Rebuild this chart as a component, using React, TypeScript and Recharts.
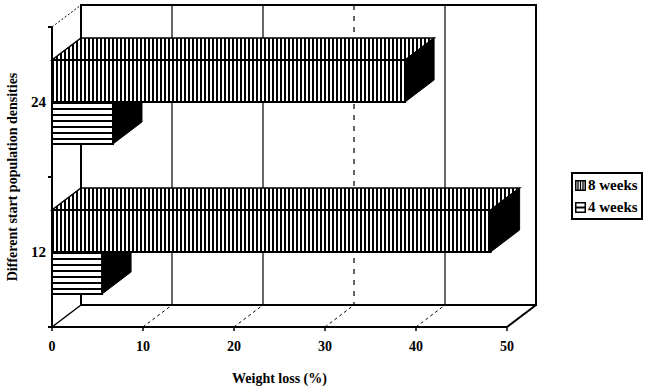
import React from 'react';
import { BarChart, Bar, XAxis, YAxis, Legend, ReferenceLine, ReferenceArea } from 'recharts';

// start densities (top to bottom) and weight loss (%) per period
const densities = ['24', '12'];
const weeks8 = [38.8, 48.2];
const weeks4 = [6.7, 5.5];
const xTicks = [0, 10, 20, 30, 40, 50];
const gridValues = [10, 20, 30, 40];
const seriesNames = ['8 weeks', '4 weeks'];

const data = densities.map((d, i) => ({ density: d, w8: weeks8[i], w4: weeks4[i] }));

// pseudo 3D depth of the Excel-style chart
const DX = 29;
const DY = -22;
const FONT = '"Liberation Serif", "Times New Roman", serif';

const shape8 = (p: any) => {
  const { x, y, width: w, height: h } = p;
  return (
    <g>
      <polygon
        points={`${x},${y} ${x + w},${y} ${x + w + DX},${y + DY} ${x + DX},${y + DY}`}
        fill="url(#vstripe)"
        stroke="#000"
        strokeWidth={1.5}
      />
      <polygon
        points={`${x + w},${y} ${x + w + DX},${y + DY} ${x + w + DX},${y + h + DY} ${x + w},${y + h}`}
        fill="#000"
        stroke="#000"
      />
      <rect x={x} y={y} width={w} height={h} fill="url(#vstripe)" stroke="#000" strokeWidth={2} />
    </g>
  );
};

// the lower bar: its top face sits under the 8 weeks bar, so only the clipped side shows
const shape4 = (p: any) => {
  const { x, y, width: w, height: h } = p;
  return (
    <g>
      <polygon
        points={`${x + w},${y} ${x + w + DX},${y} ${x + w + DX},${y + h + DY} ${x + w},${y + h}`}
        fill="#000"
        stroke="#000"
      />
      <rect x={x} y={y} width={w} height={h} fill="url(#hstripe)" stroke="#000" strokeWidth={2} />
    </g>
  );
};

// back wall, side wall and floor edges
const frameShape = (p: any) => {
  const { x, y, width: w, height: h } = p;
  const b = y + h;
  return (
    <g stroke="#000" fill="none">
      <rect x={x + DX} y={y + DY} width={w} height={h} strokeWidth={2} />
      <line x1={x} y1={y} x2={x + DX} y2={y + DY} strokeWidth={1} strokeDasharray="2 2" />
      <line x1={x} y1={b} x2={x + DX} y2={b + DY} strokeWidth={1.5} />
      <line x1={x + w} y1={b} x2={x + w + DX} y2={b + DY} strokeWidth={2} />
    </g>
  );
};

const gridShape = (dashed: boolean) => (p: any) => {
  const { x1, y1, y2 } = p;
  const top = Math.min(y1, y2);
  const bot = Math.max(y1, y2);
  return (
    <g stroke="#000" fill="none">
      <line
        x1={x1 + DX}
        y1={top + DY}
        x2={x1 + DX}
        y2={bot + DY}
        strokeWidth={1.2}
        strokeDasharray={dashed ? '5 6' : undefined}
      />
      <line x1={x1} y1={bot} x2={x1 + DX} y2={bot + DY} strokeWidth={1} strokeDasharray="3 3" />
    </g>
  );
};

const YTick = (p: any) => {
  const { x, y, payload } = p;
  const off = payload.offset ?? 0;
  return (
    <g>
      <text
        x={x - 6}
        y={y}
        dy="0.35em"
        textAnchor="end"
        fontSize={15}
        fontFamily={FONT}
        fontWeight="bold"
        fill="#000"
      >
        {payload.value}
      </text>
      <line x1={x - 4} y1={y - off} x2={x} y2={y - off} stroke="#000" strokeWidth={2} />
      <line x1={x - 4} y1={y + off} x2={x} y2={y + off} stroke="#000" strokeWidth={2} />
    </g>
  );
};

// legend drawn as its own little svg, box and all
const LegendBox = () => (
  <svg width={72} height={48} style={{ display: 'block' }}>
    <rect x={1} y={1} width={70} height={46} fill="#fff" stroke="#000" strokeWidth={2} />
    {seriesNames.map((n, i) => {
      const cy = 13 + i * 22;
      return (
        <g key={n}>
          <rect x={4.75} y={cy - 4.25} width={9.5} height={9.5} fill="#fff" stroke="#000" strokeWidth={1.5} />
          {i === 0
            ? [7, 9.5, 12].map((v) => (
                <line key={v} x1={v} y1={cy - 4} x2={v} y2={cy + 5} stroke="#000" strokeWidth={1.3} />
              ))
            : (
                <line x1={5} y1={cy + 0.5} x2={14} y2={cy + 0.5} stroke="#000" strokeWidth={2} />
              )}
          <text x={17} y={cy} dy="0.35em" fontSize={15} fontFamily={FONT} fontWeight="bold" fill="#000">
            {n}
          </text>
        </g>
      );
    })}
  </svg>
);

export default function App() {
  return (
    <div style={{ position: 'absolute', left: 0, top: 0, width: 650, height: 390, background: '#fff' }}>
      <BarChart
        width={650}
        height={390}
        data={data}
        layout="vertical"
        margin={{ top: 27, right: 143, bottom: 0, left: 0 }}
        barSize={42}
        barGap={0}
      >
        <defs>
          <pattern id="vstripe" width={4} height={4} patternUnits="userSpaceOnUse">
            <rect width={4} height={4} fill="#fff" />
            <rect width={2} height={4} fill="#000" />
          </pattern>
          <pattern id="hstripe" width={6} height={6} patternUnits="userSpaceOnUse">
            <rect width={6} height={6} fill="#fff" />
            <rect width={6} height={2} fill="#000" />
          </pattern>
        </defs>
        <XAxis
          type="number"
          domain={[0, 50]}
          ticks={xTicks}
          height={63}
          axisLine={{ stroke: '#000', strokeWidth: 2 }}
          tickLine={{ stroke: '#000', strokeWidth: 1.5 }}
          tickSize={4}
          tickMargin={10}
          tick={{ fill: '#000', fontSize: 14, fontFamily: FONT, fontWeight: 'bold' }}
          label={{
            content: (lp: any) => {
              const vb = lp.viewBox;
              return (
                <text
                  x={vb.x + vb.width / 2}
                  y={vb.y + 56}
                  textAnchor="middle"
                  fontSize={14}
                  fontFamily={FONT}
                  fontWeight="bold"
                  fill="#000"
                >
                  Weight loss (%)
                </text>
              );
            },
          }}
        />
        <YAxis
          type="category"
          dataKey="density"
          width={52}
          axisLine={{ stroke: '#000', strokeWidth: 2 }}
          tickLine={false}
          tickSize={0}
          tickMargin={0}
          tick={YTick}
          label={{
            content: (lp: any) => {
              const vb = lp.viewBox;
              const cx = vb.x + 12;
              const cy = vb.y + vb.height / 2;
              return (
                <text
                  x={cx}
                  y={cy}
                  transform={`rotate(-90 ${cx} ${cy})`}
                  dy="0.35em"
                  textAnchor="middle"
                  fontSize={14}
                  fontFamily={FONT}
                  fontWeight="bold"
                  fill="#000"
                >
                  Different start population densities
                </text>
              );
            },
          }}
        />
        <ReferenceArea x1={0} x2={50} shape={frameShape} zIndex={-60} />
        {gridValues.map((v) => (
          <ReferenceLine key={v} x={v} shape={gridShape(v === 30)} zIndex={-60} />
        ))}
        <Legend
          layout="horizontal"
          verticalAlign="middle"
          align="center"
          content={LegendBox}
          wrapperStyle={{ left: 571, top: 172, width: 72, height: 48 }}
        />
        <Bar dataKey="w8" name={seriesNames[0]} shape={shape8} isAnimationActive={false} />
        <Bar dataKey="w4" name={seriesNames[1]} shape={shape4} isAnimationActive={false} />
      </BarChart>
    </div>
  );
}
